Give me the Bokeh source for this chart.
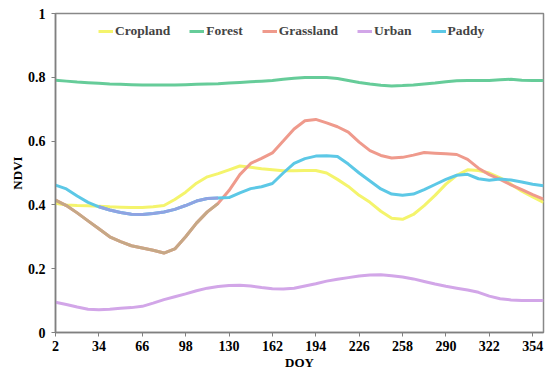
from bokeh.plotting import figure
from bokeh.models import Range1d, FixedTicker, Legend, LegendItem
from bokeh.embed import file_html
from bokeh.resources import INLINE

doy = list(range(2, 363, 8))

cropland = [0.405, 0.400, 0.398, 0.397, 0.396, 0.394, 0.393, 0.392, 0.392, 0.394,
            0.398, 0.417, 0.440, 0.468, 0.488, 0.498, 0.510, 0.522, 0.518, 0.513,
            0.510, 0.507, 0.507, 0.508, 0.508, 0.500, 0.480, 0.458, 0.430, 0.408,
            0.380, 0.358, 0.355, 0.370, 0.398, 0.430, 0.465, 0.493, 0.510, 0.508,
            0.500, 0.485, 0.465, 0.443, 0.425, 0.408]
forest = [0.791, 0.788, 0.785, 0.783, 0.781, 0.779, 0.778, 0.777, 0.776, 0.776,
          0.776, 0.776, 0.777, 0.778, 0.779, 0.780, 0.782, 0.784, 0.786, 0.788,
          0.790, 0.794, 0.797, 0.799, 0.799, 0.799, 0.796, 0.790, 0.784, 0.779,
          0.775, 0.773, 0.774, 0.776, 0.779, 0.782, 0.786, 0.789, 0.790, 0.790,
          0.790, 0.792, 0.794, 0.791, 0.790, 0.790]
grassland = [0.415, 0.398, 0.375, 0.350, 0.325, 0.300, 0.285, 0.272, 0.265, 0.258,
             0.249, 0.262, 0.300, 0.343, 0.378, 0.405, 0.445, 0.495, 0.530, 0.546,
             0.563, 0.600, 0.638, 0.664, 0.668, 0.657, 0.645, 0.628, 0.597, 0.570,
             0.555, 0.547, 0.549, 0.556, 0.564, 0.562, 0.560, 0.558, 0.543, 0.515,
             0.495, 0.480, 0.463, 0.448, 0.432, 0.418]
urban = [0.095, 0.088, 0.080, 0.073, 0.071, 0.073, 0.076, 0.078, 0.082, 0.092,
         0.103, 0.112, 0.121, 0.131, 0.139, 0.144, 0.147, 0.148, 0.146, 0.141,
         0.137, 0.136, 0.139, 0.146, 0.153, 0.161, 0.167, 0.172, 0.177, 0.180,
         0.181, 0.178, 0.174, 0.168, 0.160, 0.152, 0.145, 0.139, 0.133, 0.126,
         0.114, 0.106, 0.102, 0.100, 0.100, 0.100]
paddy = [0.462, 0.450, 0.428, 0.408, 0.394, 0.384, 0.376, 0.371, 0.370, 0.373,
         0.378, 0.386, 0.398, 0.412, 0.420, 0.422, 0.423, 0.438, 0.451, 0.457,
         0.467, 0.500, 0.530, 0.545, 0.553, 0.554, 0.552, 0.528, 0.500, 0.475,
         0.450, 0.434, 0.430, 0.434, 0.448, 0.464, 0.480, 0.493, 0.496, 0.482,
         0.477, 0.481, 0.478, 0.472, 0.465, 0.460]

names = ["Cropland", "Forest", "Grassland", "Urban", "Paddy"]
series = [cropland, forest, grassland, urban, paddy]
colors = ["#f4f46c", "#66cc99", "#ef9a8c", "#d2a6e8", "#5cc8e6"]

x_ticks = [2, 34, 66, 98, 130, 162, 194, 226, 258, 290, 322, 354]
y_ticks = [0, 0.2, 0.4, 0.6, 0.8, 1]
y_labels = {0: "0", 0.2: "0.2", 0.4: "0.4", 0.6: "0.6", 0.8: "0.8", 1: "1"}

FONT = "Liberation Serif"

p = figure(width=550, height=376, output_backend="svg", toolbar_location=None,
           x_range=Range1d(2, 362), y_range=Range1d(0, 1),
           min_border_left=55, min_border_right=7, min_border_top=13,
           min_border_bottom=44)
p.xgrid.visible = False
p.ygrid.visible = False
p.outline_line_color = "#888888"
p.outline_line_width = 1.5

items = []
for name, vals, col in zip(names, series, colors):
    r = p.line(doy, vals, line_color=col, line_width=3)
    items.append(LegendItem(label=name, renderers=[r]))

# overlapping tints seen in the reference
p.line(doy[:16], grassland[:16], line_color="#c6a886", line_width=3)
p.line(doy[4:16], paddy[4:16], line_color="#8fa3e2", line_width=3)

for ax in (p.xaxis[0], p.yaxis[0]):
    ax.axis_line_color = "#808080"
    ax.axis_line_width = 1.5
    ax.major_tick_line_color = "#808080"
    ax.major_tick_out = 4
    ax.major_tick_in = 0
    ax.minor_tick_line_color = None
    ax.major_label_text_font = FONT
    ax.major_label_text_font_style = "bold"
    ax.major_label_text_font_size = "14px"
    ax.major_label_text_color = "black"
    ax.axis_label_text_font = FONT
    ax.axis_label_text_font_style = "bold"
    ax.axis_label_text_font_size = "13px"
    ax.axis_label_text_color = "black"

p.xaxis.ticker = FixedTicker(ticks=x_ticks)
p.yaxis.ticker = FixedTicker(ticks=y_ticks)
p.yaxis.major_label_overrides = y_labels
p.xaxis.axis_label = "DOY"
p.yaxis.axis_label = "NDVI"
p.xaxis.major_label_standoff = 4
p.yaxis.major_label_standoff = 6
p.xaxis.axis_label_standoff = 1
p.yaxis.axis_label_standoff = 0

legend = Legend(items=items, orientation="horizontal", location=(43, 293),
                background_fill_alpha=0, border_line_color=None,
                padding=0, margin=0, spacing=19, glyph_width=15, glyph_height=16,
                label_height=16, label_standoff=2,
                label_text_font=FONT, label_text_font_style="bold",
                label_text_font_size="13.5px")
p.add_layout(legend, "center")

open("out.html", "w").write(file_html(p, INLINE))
